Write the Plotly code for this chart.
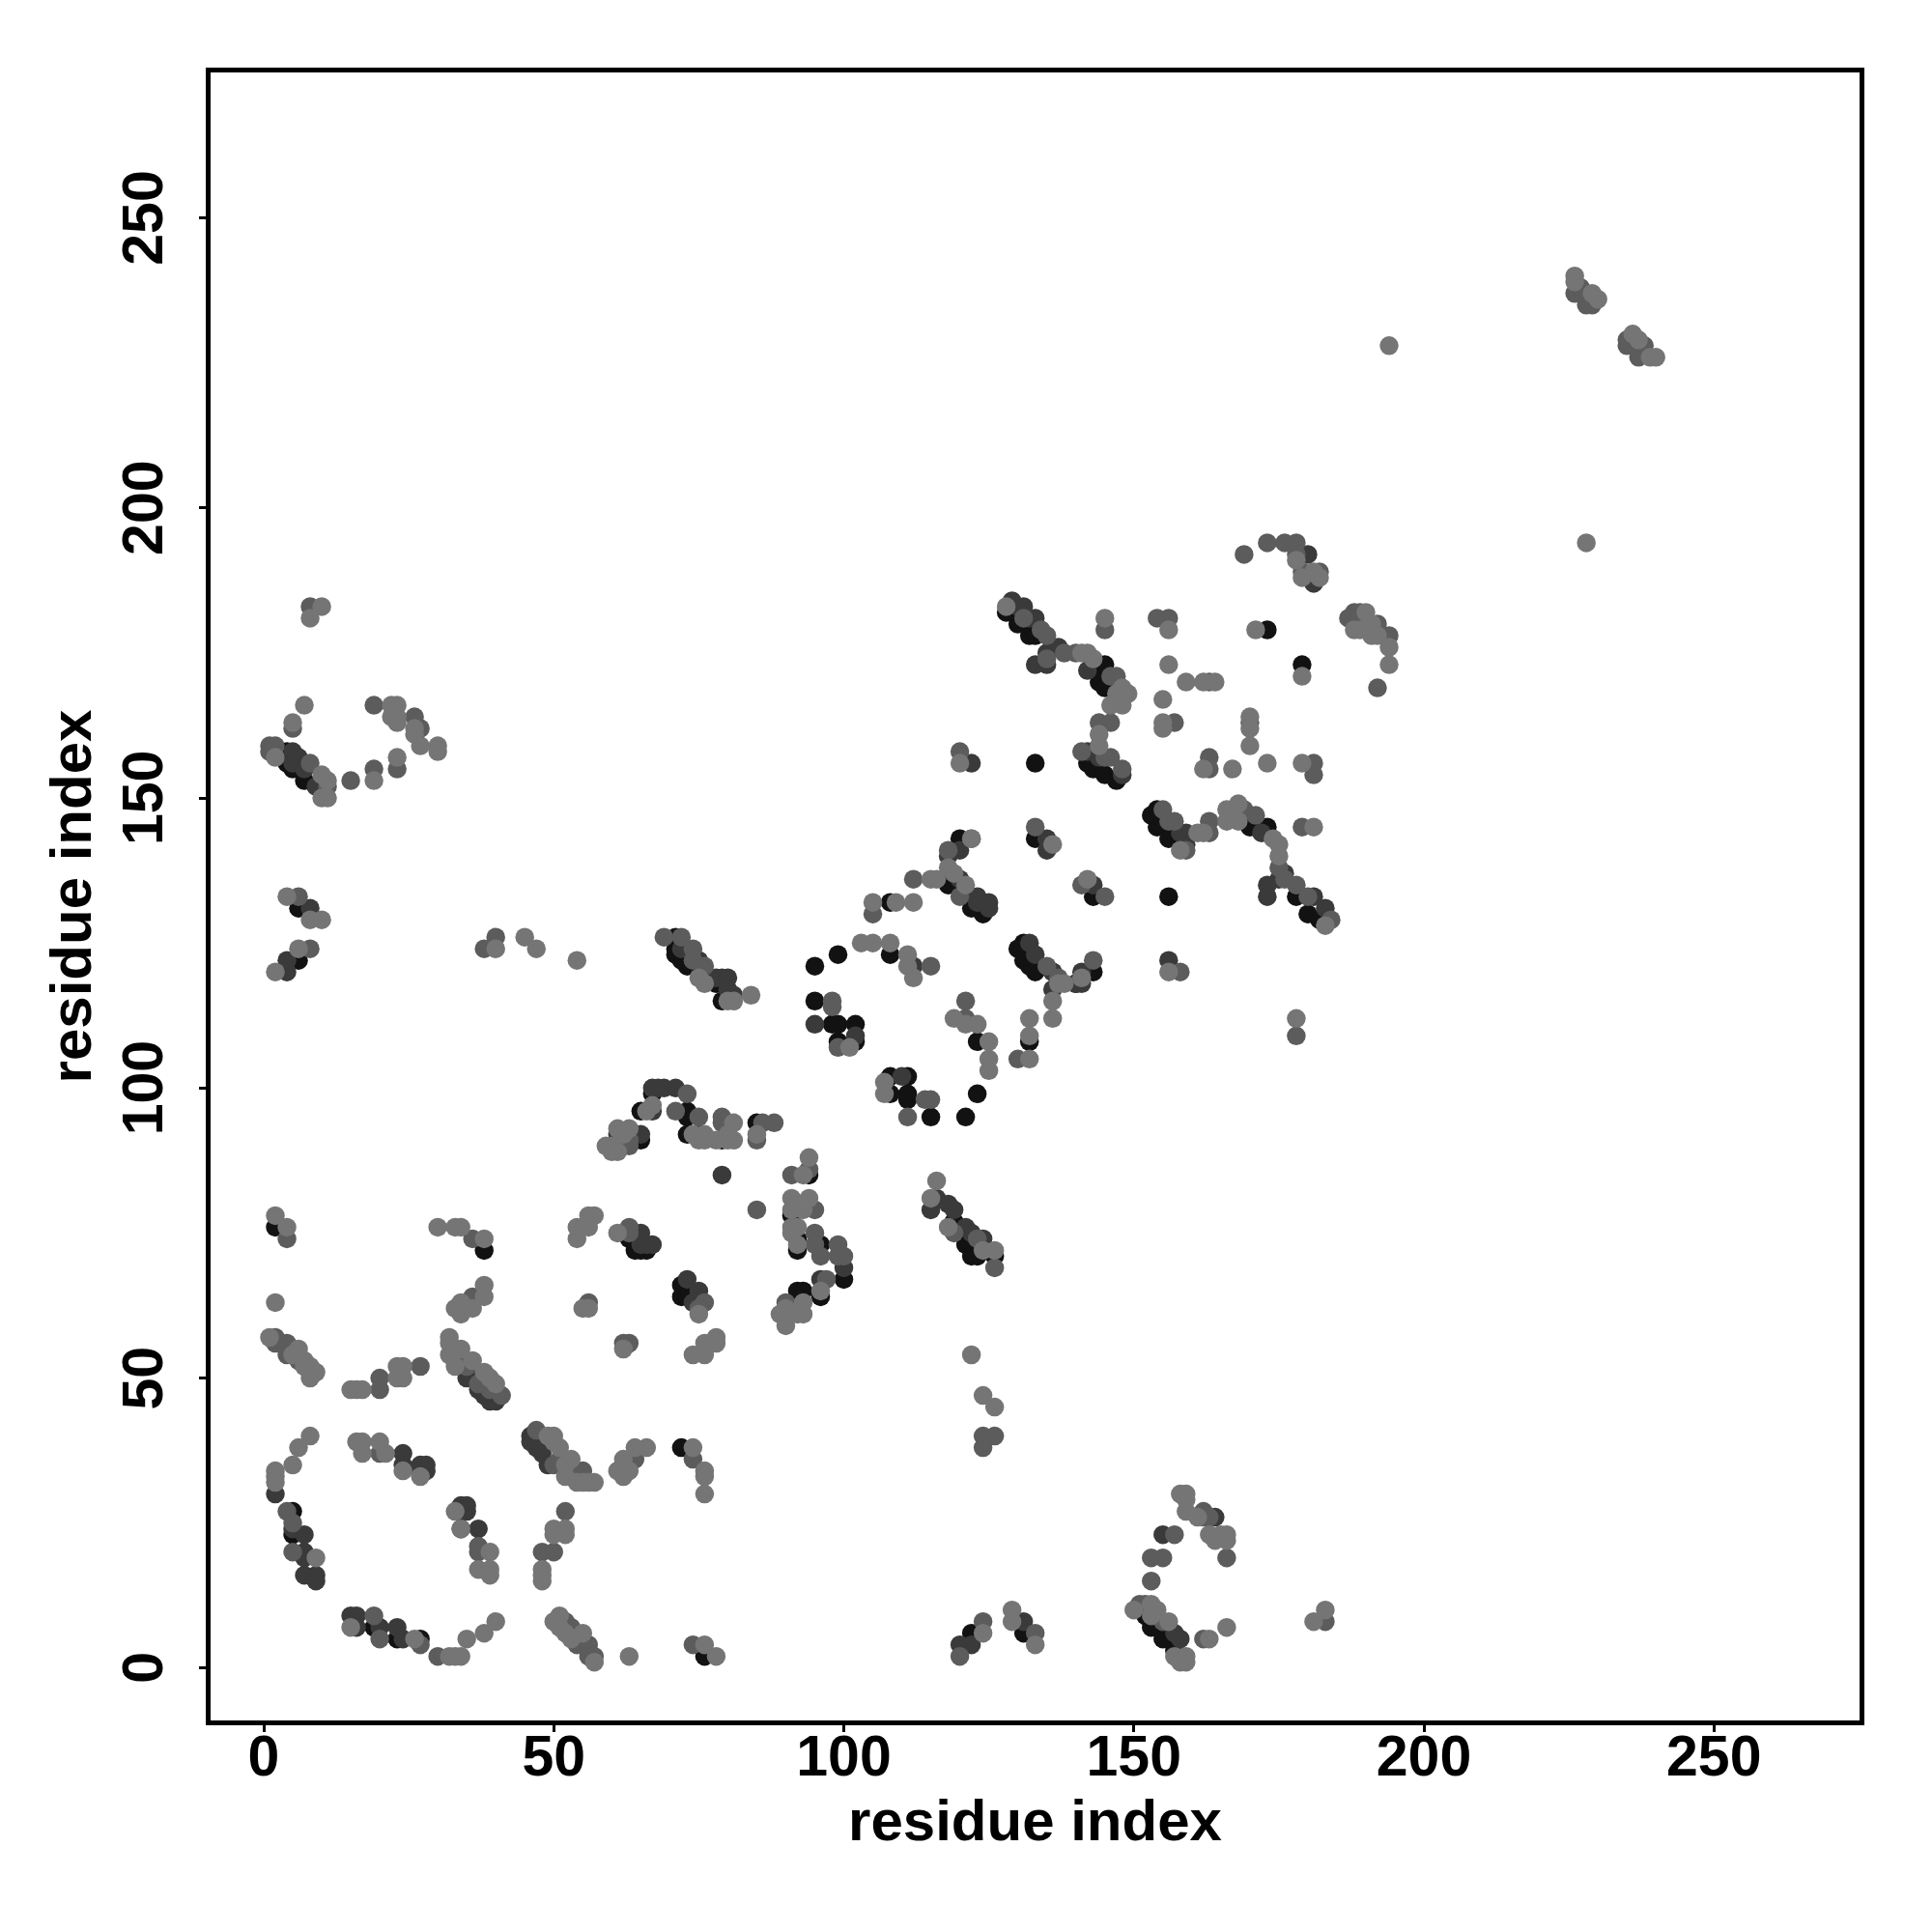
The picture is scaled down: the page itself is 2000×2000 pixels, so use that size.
import plotly.graph_objects as go

tick_values = [0, 50, 100, 150, 200, 250]
axis_label = "residue index"

black_pts = [
    (2,76),(63,74),(64,72),(65,72),(66,72),(72,66),(72,64),(73,64),(38,72),(5,27),(5,23),(34,24),
    (19,7),(23,5),(27,5),(76,2),(72,38),(71,126),(71,124),(71,123),(72,122),(73,122),(73,121),(76,119),(78,118),(79,115),
    (108,132),(108,123),(95,121),(99,123),(95,115),(98,111),(99,111),(102,111),(102,108),(99,108),(123,108),(132,108),
    (130,124),(131,125),(131,122),(132,121),(108,102),(111,102),(108,99),(111,99),(111,98),(115,95),(121,95),(123,99),
    (67,99),(65,96),(65,91),(73,96),(73,95),(73,92),(79,91),(85,94),(94,85),(91,78),(92,74),(92,72),(96,73),(100,67),(96,64),
    (92,65),(93,65),(119,77),(121,73),(122,71),(123,71),(126,71),(124,130),(122,133),(122,131),(119,135),(118,135),(120,143),
    (129,182),(130,180),(132,178),(133,178),(144,173),(145,173),(144,170),(145,169),(173,179),(179,173),
    (142,156),(143,155),(145,154),(147,153),(133,156),(133,143),(153,147),(154,148),(154,145),(156,143),(169,146),(170,145),(173,145),
    (178,133),(180,130),(182,129),(156,133),(143,133),(133,120),(140,118),(143,120),
    (122,6),(131,6),(152,9),(153,7),(155,5),(157,3),
    (4,158),(4,156),(5,155),(7,153),(6,131),(6,122),(128,182),(61,90),
]

dark_pts = [
    (35,50),(37,48),(38,47),(40,46),(39,46),(36,50),(46,40),(46,39),(47,38),(48,37),(49,35),
    (24,37),(24,35),(27,35),(28,35),(27,34),(28,34),(2,30),
    (5,24),(7,23),(7,20),(7,19),(7,16),(9,16),(9,15),(34,28),(35,28),(34,27),(35,27),(37,24),
    (15,9),(16,9),(16,7),(20,7),(23,7),(24,5),
    (65,75),(65,73),(67,73),(66,73),(73,67),(75,65),(74,63),
    (72,124),(75,122),(77,119),(78,119),(79,119),(80,119),(81,116),(80,117),
    (112,121),(95,111),(102,109),(132,125),(133,123),(136,120),(140,118),(141,120),
    (67,100),(68,100),(69,100),(71,100),(67,96),(65,92),(61,92),(75,92),(79,85),
    (110,102),(100,69),(96,67),(115,79),(116,81),(118,80),(119,79),(121,76),(122,75),(124,74),
    (123,133),(123,132),(125,132),(125,131),(120,136),(120,141),(118,140),
    (129,184),(130,183),(131,183),(132,181),(133,181),(135,175),(136,176),(137,176),(133,173),(135,173),(142,172),
    (142,158),(143,158),(144,158),(144,157),(148,154),(122,156),(135,143),(135,141),(158,144),(159,144),(159,142),
    (172,144),(176,137),(175,136),(173,135),(173,133),(181,133),(183,131),
    (156,122),(143,135),(136,117),(141,118),(136,120),
    (122,4),(131,8),(157,6),(158,5),(158,2),(155,23),(164,26),(120,4),
    (180,192),(181,187),(5,158),(6,157),(5,156),(7,155),(9,152),(8,131),(4,122),(4,120),
]

mid_pts = [
    (4,74),(2,57),(2,56),(4,56),(4,54),(6,53),(20,50),(20,48),(27,52),
    (34,53),(35,52),(37,49),(39,48),(41,47),(47,41),(50,35),(51,36),(53,33),(54,34),(55,34),
    (20,37),(64,36),(74,36),(4,27),(5,25),(5,20),(37,21),(37,20),(52,27),(48,20),(50,20),
    (19,9),(20,5),(27,4),(30,2),(36,74),(52,8),(53,7),(54,4),(56,4),(56,2),(57,2),(74,4),
    (63,76),(63,75),(56,63),(62,56),(63,56),(76,63),(75,62),(36,64),(34,62),
    (69,126),(72,126),(74,124),(74,122),(76,121),(105,130),(112,136),(115,121),
    (98,115),(98,114),(99,107),(121,115),(121,112),(130,105),(135,121),(137,119),(114,98),(115,98),(111,95),
    (73,99),(71,96),(75,95),(63,91),(63,90),(79,95),(79,94),(86,94),(88,94),(85,91),(85,79),
    (94,86),(91,85),(95,79),(95,75),(95,73),(96,71),(99,73),(100,71),(99,71),(97,67),(90,63),
    (119,75),(123,74),(126,69),(120,133),(124,40),(126,40),(124,38),(120,158),(118,141),
    (131,181),(135,178),(134,179),(135,174),(138,175),(140,175),(146,171),(147,171),(147,167),
    (145,179),(154,181),(156,181),(163,170),(157,163),(170,163),(163,157),(163,155),(181,156),(181,154),
    (187,181),(188,182),(189,182),(192,180),(189,181),(194,178),(192,169),
    (169,192),(173,194),(176,194),(178,194),(178,192),(179,189),(182,189),
    (226,237),(227,238),(228,235),(229,235),(235,229),(235,228),(237,226),(238,228),
    (144,163),(146,163),(141,158),(146,157),(145,157),(148,155),(133,145),(122,143),
    (155,148),(156,146),(157,146),(159,141),(163,146),(163,144),(169,148),(171,147),(175,138),(176,136),(178,135),(180,133),(184,129),(179,145),
    (158,120),(178,109),(141,135),(145,133),(143,122),(120,2),
    (124,8),(133,6),(162,27),(162,26),(163,26),(157,23),(153,19),(155,19),(166,19),(153,15),
    (151,11),(152,11),(155,8),(162,5),(183,8),
    (8,183),(5,162),(1,159),(2,159),(1,158),(8,156),(11,152),(15,153),(19,155),(23,155),(19,166),(26,164),(27,162),
    (6,133),(8,124),(38,124),(40,126),
]

light_pts = [
    (2,78),(4,76),(2,63),(1,57),(6,55),(7,53),(8,52),(8,50),(9,51),(7,52),(5,54),
    (15,48),(16,48),(17,48),(23,52),(24,52),(23,50),(24,50),
    (32,57),(32,56),(32,54),(34,55),(33,52),(36,53),(38,51),(39,50),(40,49),(33,55),
    (8,40),(6,38),(5,35),(2,34),(2,33),(2,32),
    (16,39),(17,39),(17,37),(20,39),(21,37),(24,34),(27,33),
    (49,40),(50,40),(50,39),(51,38),(53,36),(52,33),(54,32),(55,32),(56,32),(57,32),(52,35),
    (61,34),(62,33),(62,36),(63,34),(64,38),(66,38),
    (74,38),(76,34),(76,33),(76,30),
    (9,19),(33,27),(34,24),(39,20),(37,17),(39,17),(39,16),
    (50,24),(52,24),(50,23),(52,23),(48,17),(48,16),(48,15),
    (15,7),(26,5),(32,2),(33,2),(34,2),(35,5),(38,6),(40,8),
    (51,9),(50,8),(51,7),(52,6),(53,5),(55,6),(57,1),(63,2),(76,4),(78,2),
    (54,74),(54,76),(56,76),(56,78),(57,78),(61,75),
    (55,62),(56,62),(62,55),(74,54),(76,54),(76,56),(78,57),(78,56),(75,61),
    (30,76),(33,76),(34,76),(38,74),(38,66),(38,64),(34,63),(33,62),(34,61),(36,62),
    (54,122),(75,119),(76,118),(80,115),(81,115),(84,116),
    (105,132),(109,132),(112,132),(103,125),(105,125),(108,125),(111,123),(111,121),(112,119),(115,136),(116,136),
    (101,107),(119,112),(121,111),(123,111),(125,108),(125,105),(125,103),(132,112),(132,109),(132,105),
    (136,115),(136,112),(137,118),(138,118),(121,135),(118,138),(119,137),(120,156),(122,143),
    (107,101),(107,99),(67,97),(66,96),(61,93),(63,93),(62,92),(59,90),(60,90),(61,89),(60,89),
    (74,92),(76,92),(76,91),(75,91),(81,94),(78,91),(80,91),(81,91),(80,92),(85,92),
    (94,88),(93,85),(91,81),(94,81),(91,79),(93,79),(91,76),(92,76),(91,75),(92,73),(96,65),(93,63),(90,62),(89,61),(90,59),(93,61),(92,61),
    (116,84),(115,81),(118,76),(126,72),(124,72),(122,54),(124,47),(126,45),
    (128,183),(141,175),(142,175),(143,174),(148,169),(149,168),(146,166),(148,166),(147,168),
    (145,181),(156,179),(156,173),(159,170),(162,170),(164,170),(155,167),(155,163),(155,162),(170,164),(170,162),(170,159),
    (162,155),(167,155),(173,156),(171,179),(179,171),(179,156),
    (190,182),(188,179),(189,179),(191,178),(192,178),(191,180),(194,176),(194,173),
    (181,189),(182,188),(179,188),(178,191),
    (194,228),(228,194),(226,240),(226,239),(229,237),(230,236),(236,230),(237,229),(239,226),(240,226),
    (144,161),(144,159),(136,142),
    (158,141),(161,144),(162,144),(166,148),(166,146),(167,148),(168,149),(168,146),(174,143),(175,142),(175,140),(183,128),(181,145),
    (142,136),(156,120),(178,112),(141,119),
    (129,10),(129,8),(124,6),(133,4),(158,30),(159,30),(159,29),(159,27),(161,26),(163,23),(164,22),(166,23),(166,22),(165,23),
    (150,10),(153,11),(154,10),(153,9),(156,8),(157,2),(159,2),(159,1),(158,1),(163,5),(166,7),(181,8),(183,10),
    (8,181),(10,183),(7,166),(5,163),(2,157),(10,154),(11,153),(10,150),(11,150),(19,153),(23,157),
    (22,166),(23,166),(22,164),(23,163),(23,164),(26,162),(26,161),(27,159),(30,159),(30,158),
    (4,133),(8,129),(10,129),(6,124),(2,120),(40,124),(45,126),(47,124),
]

series = [
    (black_pts, "#121212"),
    (dark_pts, "#3a3a3a"),
    (mid_pts, "#5c5c5c"),
    (light_pts, "#757575"),
]

fig = go.Figure()
for pts, colour in series:
    fig.add_trace(go.Scatter(
        x=[p[0] for p in pts], y=[p[1] for p in pts], mode="markers",
        marker=dict(size=19.5, color=colour, line=dict(width=0)),
        hoverinfo="skip", showlegend=False,
    ))

fig.update_layout(
    width=1984, height=1984, autosize=False,
    margin=dict(l=210.3, r=67.2, t=67, b=211),
    paper_bgcolor="white", plot_bgcolor="white",
    font=dict(family="Liberation Sans", size=59, color="black"),
)
title_font = dict(family="Liberation Sans", size=60, color="black", weight="bold")
tick_font = dict(family="Liberation Sans", size=59, color="black", weight="bold")
fig.update_xaxes(
    range=[-9.16, 275.1], tickvals=tick_values, ticks="outside", ticklen=7, tickwidth=3, tickcolor="black",
    showline=True, linewidth=5, linecolor="black", mirror=True, showgrid=False, zeroline=False,
    tickfont=tick_font, ticklabelstandoff=-26, title=dict(text=axis_label, font=title_font, standoff=11),
)
fig.update_yaxes(
    range=[-9.04, 275.1], tickvals=tick_values, ticks="outside", ticklen=7, tickwidth=3, tickcolor="black",
    showline=True, linewidth=5, linecolor="black", mirror=True, showgrid=False, zeroline=False,
    showticklabels=False, title=dict(text=axis_label, font=title_font, standoff=94),
)
# Rotated y tick labels, centred on their ticks as in the reference.
for value in tick_values:
    fig.add_annotation(
        x=0, xref="paper", xshift=-70, y=value, yref="y", text=str(value), textangle=-90,
        showarrow=False, xanchor="center", yanchor="middle", font=tick_font,
    )
fig.write_html("out.html")
